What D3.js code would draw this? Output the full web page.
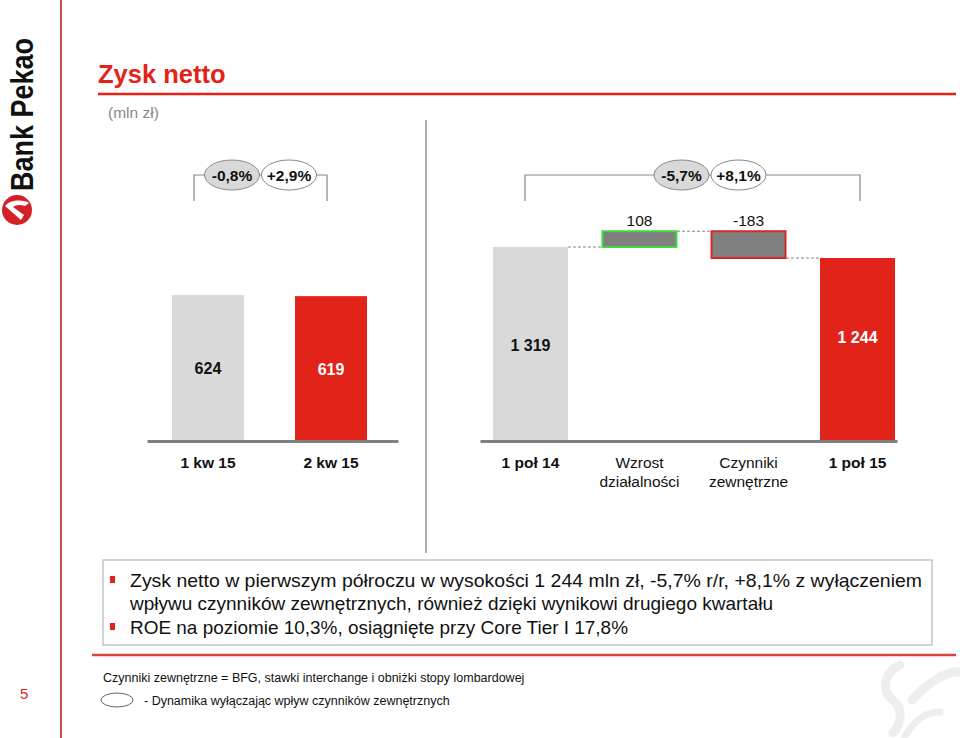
<!DOCTYPE html>
<html><head><meta charset="utf-8">
<script src="https://cdn.jsdelivr.net/npm/d3@7"></script>
<style>
body{margin:0;background:#fff;}
svg{display:block;font-family:"Liberation Sans",Arial,Helvetica,sans-serif;}
</style></head>
<body><svg id="c" width="960" height="738"></svg>
<script>
// ---- data ----
const quarterCats = ["1 kw 15", "2 kw 15"];
const quarterVals = [624, 619];
const quarterLabels = ["624", "619"];
const halfCats = ["1 poł 14", "Wzrost działalności", "Czynniki zewnętrzne", "1 poł 15"];
const halfVals = [1319, 108, -183, 1244];
const halfLabels = ["1 319", "108", "-183", "1 244"];
const halfKinds = ["total", "delta", "delta", "total"];
const quarterGrowth = ["-0,8%", "+2,9%"];
const halfGrowth = ["-5,7%", "+8,1%"];
const bullets = [
  ["Zysk netto w pierwszym półroczu w wysokości 1 244 mln zł, -5,7% r/r, +8,1% z wyłączeniem",
   "wpływu czynników zewnętrznych, również dzięki wynikowi drugiego kwartału"],
  ["ROE na poziomie 10,3%, osiągnięte przy Core Tier I 17,8%"]
];
const footnote1 = "Czynniki zewnętrzne = BFG, stawki interchange i obniżki stopy lombardowej";
const footnote2 = "- Dynamika wyłączając wpływ  czynników zewnętrznych";

const RED = "#e2231a", LGRAY = "#d9d9d9", DGRAY = "#808080";
const svg = d3.select("#c");

// ---- frame ----
svg.append("line").attr("x1", 61).attr("x2", 61).attr("y1", 0).attr("y2", 738).attr("stroke", "#c8504f").attr("stroke-width", 2);
svg.append("line").attr("x1", 98).attr("x2", 956).attr("y1", 94).attr("y2", 94).attr("stroke", RED).attr("stroke-width", 2.5);
svg.append("line").attr("x1", 92).attr("x2", 956).attr("y1", 655).attr("y2", 655).attr("stroke", "#d64541").attr("stroke-width", 2.5);

// logo
const logo = svg.append("g");
logo.append("text").attr("transform", "translate(33,191) rotate(-90)")
  .attr("font-size", 31).attr("font-weight", "bold").attr("fill", "#111")
  .attr("textLength", 153).attr("lengthAdjust", "spacingAndGlyphs").text("Bank Pekao");
logo.append("circle").attr("cx", 17).attr("cy", 210).attr("r", 15).attr("fill", "#d42027");
logo.append("path").attr("d", "M5,206 C10,200 22,199 29,203 L25,206 C20,204 15,205 13,207 L24,215 L21,220 Z").attr("fill", "#fff");

// watermark
const wm = svg.append("g").attr("fill", "none").attr("stroke", "#eeeeee").attr("stroke-linecap", "round");
wm.append("path").attr("d", "M900,665 C885,672 880,690 893,700 C905,710 900,725 893,733").attr("stroke-width", 9);
wm.append("path").attr("d", "M912,700 C930,680 950,670 960,672").attr("stroke-width", 9);
wm.append("path").attr("d", "M905,736 C915,720 925,712 940,712").attr("stroke-width", 7);

// title
svg.append("text").attr("x", 98).attr("y", 83).attr("font-size", 25.5).attr("font-weight", "bold").attr("fill", RED).text("Zysk netto");
svg.append("text").attr("x", 108).attr("y", 118).attr("font-size", 15.5).attr("fill", "#888").text("(mln zł)");
svg.append("text").attr("x", 20).attr("y", 699).attr("font-size", 15).attr("fill", RED).text("5");

// divider
svg.append("line").attr("x1", 426).attr("x2", 426).attr("y1", 120).attr("y2", 553).attr("stroke", "#b0b0b0").attr("stroke-width", 2);

// ---- scales ----
const baseY = 440;
const xL = d3.scaleBand().domain(quarterCats).range([147, 392]).paddingInner(0.415).paddingOuter(0.203);
const yL = d3.scaleLinear().domain([0, 700]).range([baseY, baseY - 700 * 0.2324]);
const xR = d3.scaleBand().domain(halfCats).range([480, 908]).paddingInner(0.312).paddingOuter(0.119);
const yR = d3.scaleLinear().domain([0, 1400]).range([baseY, baseY - 1400 * 0.1463]);

// left bars
const gL = svg.append("g");
gL.selectAll("rect").data(quarterVals).join("rect")
  .attr("x", (d, i) => xL(quarterCats[i])).attr("width", xL.bandwidth())
  .attr("y", d => yL(d)).attr("height", d => yL(0) - yL(d))
  .attr("fill", (d, i) => i === 0 ? LGRAY : RED);
gL.selectAll("text.v").data(quarterVals).join("text").attr("class", "v")
  .attr("x", (d, i) => xL(quarterCats[i]) + xL.bandwidth() / 2)
  .attr("y", d => (yL(d) + yL(0)) / 2 + 7)
  .attr("text-anchor", "middle").attr("font-size", 16).attr("font-weight", "bold")
  .attr("fill", (d, i) => i === 0 ? "#111" : "#fff").text((d, i) => quarterLabels[i]);
// left axis
const axL = d3.axisBottom(d3.scaleLinear().range([147, 398])).ticks(0).tickSize(0).tickFormat("");
svg.append("g").attr("transform", `translate(0,${baseY + 1})`).call(axL)
  .call(g => g.select(".domain").attr("stroke", DGRAY).attr("stroke-width", 3));
gL.selectAll("text.c").data(quarterCats).join("text").attr("class", "c")
  .attr("x", d => xL(d) + xL.bandwidth() / 2).attr("y", 468)
  .attr("text-anchor", "middle").attr("font-size", 15.5).attr("font-weight", "bold").attr("fill", "#111").text(d => d);

// right waterfall
let run = 0;
const wf = halfVals.map((v, i) => {
  let lo, hi;
  if (halfKinds[i] === "total") { lo = 0; hi = v; run = v; }
  else { const s = run; run = run + v; lo = Math.min(s, run); hi = Math.max(s, run); }
  return { cat: halfCats[i], v, lo, hi, end: run, kind: halfKinds[i], i };
});
const gR = svg.append("g");
// connectors
for (let i = 0; i < wf.length - 1; i++) {
  const y = yR(wf[i].end);
  gR.append("line").attr("x1", xR(wf[i].cat) + xR.bandwidth()).attr("x2", xR(wf[i + 1].cat))
    .attr("y1", y).attr("y2", y).attr("stroke", "#888").attr("stroke-width", 1).attr("stroke-dasharray", "3,2");
}
gR.selectAll("rect").data(wf).join("rect")
  .attr("x", d => xR(d.cat) + (d.kind === "delta" ? 0.5 : 0)).attr("width", d => xR.bandwidth() - (d.kind === "delta" ? 1 : 0))
  .attr("y", d => yR(d.hi)).attr("height", d => yR(d.lo) - yR(d.hi))
  .attr("fill", d => d.kind === "delta" ? DGRAY : (d.i === 0 ? LGRAY : RED))
  .attr("stroke", d => d.kind === "delta" ? (d.v > 0 ? "#3ddc3d" : "#d42a2a") : "none")
  .attr("stroke-width", 2);
gR.selectAll("text.v").data(wf).join("text").attr("class", "v")
  .attr("x", d => xR(d.cat) + xR.bandwidth() / 2)
  .attr("y", d => d.kind === "delta" ? 226 : (d.i === 0 ? (yR(d.hi) + yR(0)) / 2 + 7 : 343))
  .attr("text-anchor", "middle").attr("font-size", d => d.kind === "delta" ? 15.5 : 16)
  .attr("font-weight", d => d.kind === "delta" ? "normal" : "bold")
  .attr("fill", d => d.i === 3 ? "#fff" : "#111").text(d => halfLabels[d.i]);
const axR = d3.axisBottom(d3.scaleLinear().range([480, 897])).ticks(0).tickSize(0).tickFormat("");
svg.append("g").attr("transform", `translate(0,${baseY + 1})`).call(axR)
  .call(g => g.select(".domain").attr("stroke", DGRAY).attr("stroke-width", 3));
gR.selectAll("text.c").data(wf).join("text").attr("class", "c")
  .attr("x", d => xR(d.cat) + xR.bandwidth() / 2).attr("y", 468)
  .attr("text-anchor", "middle").attr("font-size", 15.5)
  .attr("font-weight", d => d.kind === "total" ? "bold" : "normal").attr("fill", "#111")
  .each(function (d) {
    const parts = d.kind === "total" ? [d.cat] : d.cat.split(" ");
    d3.select(this).selectAll("tspan").data(parts).join("tspan")
      .attr("x", xR(d.cat) + xR.bandwidth() / 2).attr("dy", (p, j) => j === 0 ? 0 : 19).text(p => p);
  });

// brackets with growth ellipses
function bracket(x1, x2, y, cx, labels) {
  const g = svg.append("g");
  g.append("path").attr("d", `M${x1},${y + 26}V${y}H${x2}V${y + 26}`).attr("fill", "none").attr("stroke", "#888").attr("stroke-width", 1.2);
  labels.forEach((t, j) => {
    const ex = cx + (j === 0 ? -28.5 : 28.5);
    g.append("ellipse").attr("cx", ex).attr("cy", y).attr("rx", 27.5).attr("ry", 15)
      .attr("fill", j === 0 ? LGRAY : "#fff").attr("stroke", "#888").attr("stroke-width", 1);
    g.append("text").attr("x", ex).attr("y", y + 5.5).attr("text-anchor", "middle")
      .attr("font-size", 15.5).attr("font-weight", "bold").attr("fill", "#111").text(t);
  });
}
bracket(194, 327, 175, 260.5, quarterGrowth);
bracket(525, 860, 175, 710, halfGrowth);

// text box
svg.append("rect").attr("x", 103).attr("y", 560).attr("width", 829).attr("height", 85)
  .attr("fill", "#fff").attr("stroke", "#b4b4bc").attr("stroke-width", 1.2);
const lineYs = [587, 610, 634];
const lineWidths = [792, 643, 498];
let li = 0;
bullets.forEach(b => {
  svg.append("rect").attr("x", 110).attr("y", lineYs[li] - 11).attr("width", 5).attr("height", 7).attr("fill", RED);
  b.forEach(line => {
    svg.append("text").attr("x", 130).attr("y", lineYs[li]).attr("font-size", 18.5).attr("fill", "#111")
      .attr("textLength", lineWidths[li]).attr("lengthAdjust", "spacingAndGlyphs").text(line);
    li++;
  });
});

// footnotes
svg.append("text").attr("x", 103).attr("y", 682).attr("font-size", 12.5).attr("fill", "#111").text(footnote1);
svg.append("ellipse").attr("cx", 117).attr("cy", 700).attr("rx", 16).attr("ry", 7).attr("fill", "#fff").attr("stroke", "#666").attr("stroke-width", 1);
svg.append("text").attr("x", 144).attr("y", 705).attr("font-size", 12.5).attr("fill", "#111").text(footnote2);
</script></body></html>
